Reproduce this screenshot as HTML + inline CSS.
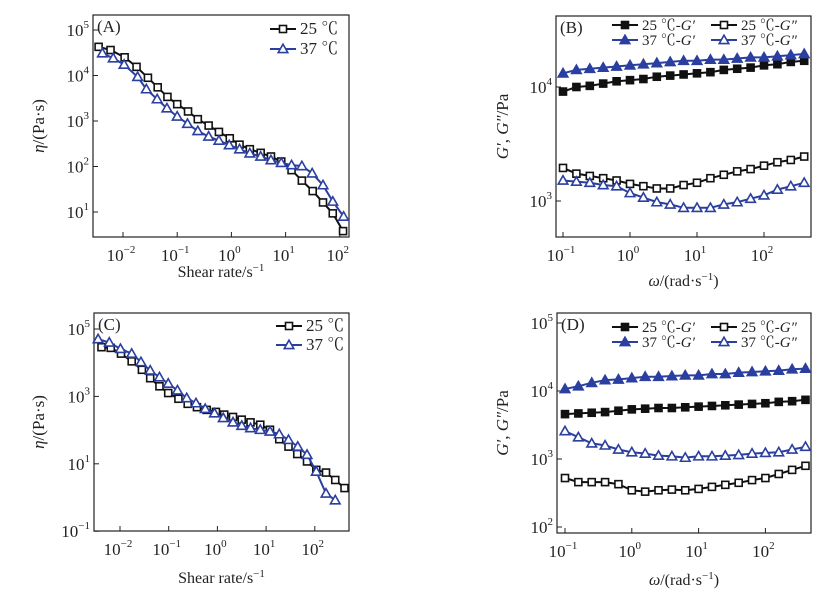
<!DOCTYPE html>
<html><head><meta charset="utf-8"><style>
body{margin:0;background:#fff;}
svg{display:block;font-family:"Liberation Serif","Noto Serif CJK SC",serif;}
</style></head><body>
<svg id="c" width="832" height="596" viewBox="0 0 832 596"></svg>
<script>
// Panel A data (log10 values)
const aX25=[-2.45,-2.23,-1.97,-1.75,-1.54,-1.36,-1.18,-1.00,-0.80,-0.62,-0.42,-0.23,-0.03,0.15,0.34,0.54,0.73,0.92,1.11,1.30,1.50,1.69,1.87,2.06];
const aY25=[4.63,4.56,4.40,4.19,3.95,3.74,3.53,3.37,3.21,3.04,2.90,2.76,2.62,2.48,2.38,2.30,2.22,2.11,1.92,1.69,1.46,1.21,0.97,0.58];
const aX37=[-2.38,-2.18,-1.98,-1.73,-1.57,-1.37,-1.19,-1.00,-0.81,-0.62,-0.42,-0.23,-0.04,0.15,0.34,0.54,0.73,0.92,1.11,1.30,1.49,1.69,1.87,2.07];
const aY37=[4.49,4.38,4.24,3.97,3.70,3.48,3.28,3.10,2.94,2.78,2.66,2.57,2.47,2.38,2.29,2.22,2.14,2.08,2.03,2.01,1.85,1.59,1.23,0.90];
// Panel C data
const cX25=[-2.38,-2.19,-1.98,-1.76,-1.55,-1.38,-1.19,-1.01,-0.80,-0.61,-0.42,-0.22,-0.03,0.14,0.32,0.50,0.68,0.88,1.08,1.27,1.46,1.64,1.84,2.03,2.23,2.42,2.61];
const cY25=[4.46,4.44,4.27,4.04,3.79,3.54,3.30,3.10,2.93,2.78,2.68,2.60,2.54,2.46,2.39,2.31,2.23,2.16,2.01,1.73,1.51,1.29,1.07,0.82,0.74,0.52,0.28];
const cX37=[-2.45,-2.22,-1.99,-1.76,-1.57,-1.38,-1.19,-1.01,-0.82,-0.63,-0.44,-0.25,-0.06,0.12,0.32,0.50,0.68,0.88,1.08,1.27,1.46,1.65,1.84,2.03,2.23,2.42];
const cY37=[4.70,4.60,4.41,4.27,4.02,3.77,3.57,3.38,3.18,2.95,2.80,2.63,2.50,2.36,2.23,2.13,2.06,2.01,1.96,1.88,1.71,1.51,1.27,0.77,0.12,-0.08];
// Frequency sweeps (log10 omega)
const wX=[-1.0,-0.8,-0.6,-0.4,-0.2,0.0,0.2,0.4,0.6,0.8,1.0,1.2,1.4,1.6,1.8,2.0,2.2,2.4,2.6];
const bG1_25=[3.96,4.00,4.01,4.03,4.05,4.06,4.07,4.09,4.10,4.11,4.12,4.13,4.15,4.16,4.17,4.19,4.20,4.22,4.23];
const bG1_37=[4.12,4.15,4.16,4.17,4.18,4.19,4.20,4.21,4.22,4.23,4.23,4.24,4.24,4.25,4.26,4.26,4.27,4.28,4.29];
const bG2_25=[3.29,3.24,3.22,3.20,3.18,3.15,3.13,3.11,3.11,3.14,3.16,3.20,3.23,3.26,3.28,3.31,3.34,3.36,3.39];
const bG2_37=[3.18,3.17,3.16,3.14,3.13,3.07,3.03,2.99,2.97,2.94,2.94,2.94,2.97,2.99,3.02,3.05,3.10,3.13,3.16];
const dG1_25=[3.66,3.67,3.68,3.69,3.71,3.73,3.74,3.75,3.75,3.76,3.77,3.78,3.79,3.80,3.81,3.82,3.84,3.85,3.87];
const dG1_37=[4.03,4.07,4.12,4.16,4.17,4.19,4.21,4.21,4.22,4.23,4.23,4.25,4.25,4.27,4.28,4.29,4.30,4.32,4.33];
const dG2_25=[2.72,2.66,2.66,2.66,2.63,2.54,2.52,2.54,2.55,2.54,2.56,2.59,2.62,2.65,2.69,2.72,2.78,2.84,2.90];
const dG2_37=[3.41,3.32,3.23,3.20,3.14,3.10,3.08,3.05,3.04,3.02,3.04,3.04,3.05,3.06,3.08,3.09,3.10,3.14,3.18];
const aXTicks=[-2,-1,0,1,2], aYTicks=[1,2,3,4,5];
const cXTicks=[-2,-1,0,1,2], cYTicks=[-1,1,3,5];
const bXTicks=[-1,0,1,2], bYTicks=[3,4];
const dXTicks=[-1,0,1,2], dYTicks=[2,3,4,5];

const NS="http://www.w3.org/2000/svg";
const svg=document.getElementById('c');
const BLACK="#111", BLUE="#2a3f9f";
function el(t,a,p){const e=document.createElementNS(NS,t);for(const k in a)e.setAttribute(k,a[k]);(p||svg).appendChild(e);return e;}
function mk(p,cfg){
  const g=el('g',{});
  
  
  const sx=v=>cfg.x0+(v-cfg.xr)*cfg.xs, sy=v=>cfg.y0-(v-cfg.yr)*cfg.ys;
  const f=el('rect',{x:cfg.L,y:cfg.T,width:cfg.R-cfg.L,height:cfg.B-cfg.T,fill:'none',stroke:'#222','stroke-width':1.2},g);
  
  cfg.xt.forEach(t=>{const x=sx(t);
    const l=el('line',{x1:x,x2:x,y1:cfg.B,y2:cfg.B-5,stroke:'#222'},g);
    
    const tx=el('text',{x:x-2,y:cfg.B+24,'font-size':17,'text-anchor':'middle',fill:'#222'},g);
    
    tx.innerHTML='10<tspan dy="-8" font-size="11">'+(t<0?'\u2212'+(-t):t)+'</tspan>';});
  cfg.yt.forEach(t=>{const y=sy(t);
    const l=el('line',{x1:cfg.L,x2:cfg.L+5,y1:y,y2:y,stroke:'#222'},g);
    
    const tx=el('text',{x:cfg.L-4,y:y+6,'font-size':17,'text-anchor':'end',fill:'#222'},g);
    
    tx.innerHTML='10<tspan dy="-8" font-size="11">'+(t<0?'\u2212'+(-t):t)+'</tspan><tspan dy="8"> </tspan>';});
  const pl=el('text',{x:cfg.L+4,y:cfg.T+17,'font-size':17,fill:'#222'},g);
  
  pl.textContent='('+cfg.id+')';
  const xt=el('text',{x:(cfg.L+cfg.R)/2,y:cfg.xty,'font-size':16,'text-anchor':'middle',fill:'#222'},g);
  
  xt.innerHTML=cfg.xtitle;
  const yt=el('text',{x:0,y:0,'font-size':17,'text-anchor':'middle',fill:'#222',transform:'translate('+cfg.ytx+','+((cfg.T+cfg.B)/2)+') rotate(-90)'},g);
  
  yt.innerHTML=cfg.ytitle;
  cfg.series.forEach(s=>{
    const sg=el('g',{},g);
    
    const pts=s.x.map((v,i)=>sx(v).toFixed(1)+','+sy(s.y[i]).toFixed(1)).join(' ');
    el('polyline',{points:pts,fill:'none',stroke:s.c,'stroke-width':2},sg);
    s.x.forEach((v,i)=>{const m=marker(sx(v),sy(s.y[i]),s,sg);
      });
  });
}
function marker(x,y,s,p){
  if(s.m==='sq') return el('rect',{x:x-3.5,y:y-3.5,width:7,height:7,fill:s.fill?s.c:'#fff',stroke:s.c,'stroke-width':1.6},p);
  return el('polygon',{points:(x)+','+(y-4.8)+' '+(x-4.8)+','+(y+3.6)+' '+(x+4.8)+','+(y+3.6),fill:s.fill?s.c:'#fff',stroke:s.c,'stroke-width':1.6},p);
}
function legend(items,fs){
  items.forEach(it=>{
    const g=el('g',{});
    
    el('line',{x1:it.x,x2:it.x+26,y1:it.y,y2:it.y,stroke:it.s.c,'stroke-width':2},g);
    marker(it.x+13,it.y,it.s,g);
    const t=el('text',{x:it.x+30,y:it.y+5,'font-size':fs,fill:'#222'},g);
    t.innerHTML=it.t;
  });
}
const s25={c:BLACK,m:'sq'},s37={c:BLUE,m:'tri'};
const etaT='<tspan font-style="italic">η</tspan>/(Pa·s)';
const shT='Shear rate/s<tspan dy="-6" font-size="11">−1</tspan>';
const wT='<tspan font-style="italic">ω</tspan>/(rad·s<tspan dy="-6" font-size="11">−1</tspan><tspan dy="6">)</tspan>';
const gT='<tspan font-style="italic">G′</tspan>, <tspan font-style="italic">G″</tspan>/Pa';
mk(0,{id:'A',L:93,R:349,T:15,B:237,x0:123,xr:-2,xs:54.2,y0:30,yr:5,ys:45.5,xt:aXTicks,yt:aYTicks,xty:277,ytx:44,xtitle:shT,ytitle:etaT,
 series:[{name:'series-25c',x:aX25,y:aY25,...s25},{name:'series-37c',x:aX37,y:aY37,...s37}]});
mk(0,{id:'C',L:94,R:349,T:313,B:531,x0:120,xr:-2,xs:48.7,y0:329,yr:5,ys:33.7,xt:cXTicks,yt:cYTicks,xty:583,ytx:44,xtitle:shT,ytitle:etaT,
 series:[{name:'series-25c',x:cX25,y:cY25,...s25},{name:'series-37c',x:cX37,y:cY37,...s37}]});
mk(0,{id:'B',L:556,R:811,T:16,B:237,x0:563,xr:-1,xs:67,y0:87,yr:4,ys:114,xt:bXTicks,yt:bYTicks,xty:286,ytx:508,xtitle:wT,ytitle:gT,
 series:[{name:'g-prime-25c',x:wX,y:bG1_25,c:BLACK,m:'sq',fill:1},{name:'g-prime-37c',x:wX,y:bG1_37,c:BLUE,m:'tri',fill:1},
 {name:'g-dprime-25c',x:wX,y:bG2_25,...s25},{name:'g-dprime-37c',x:wX,y:bG2_37,...s37}]});
mk(0,{id:'D',L:557,R:811,T:313,B:533,x0:565,xr:-1,xs:66.8,y0:323,yr:5,ys:68,xt:dXTicks,yt:dYTicks,xty:585,ytx:508,xtitle:wT,ytitle:gT,
 series:[{name:'g-prime-25c',x:wX,y:dG1_25,c:BLACK,m:'sq',fill:1},{name:'g-prime-37c',x:wX,y:dG1_37,c:BLUE,m:'tri',fill:1},
 {name:'g-dprime-25c',x:wX,y:dG2_25,...s25},{name:'g-dprime-37c',x:wX,y:dG2_37,...s37}]});
legend([{x:270,y:29,s:s25,t:'25 ℃'},{x:270,y:49,s:s37,t:'37 ℃'}],17);
legend([{x:276,y:326,s:s25,t:'25 ℃'},{x:276,y:345,s:s37,t:'37 ℃'}],17);
[25,327].forEach(y0=>{
 legend([{x:612,y:y0,s:{c:BLACK,m:'sq',fill:1},t:'25 ℃-<tspan font-style="italic">G′</tspan>'},
  {x:711,y:y0,s:s25,t:'25 ℃-<tspan font-style="italic">G″</tspan>'},
  {x:612,y:y0+15,s:{c:BLUE,m:'tri',fill:1},t:'37 ℃-<tspan font-style="italic">G′</tspan>'},
  {x:711,y:y0+15,s:s37,t:'37 ℃-<tspan font-style="italic">G″</tspan>'}],15);
});
</script>
</body></html>
